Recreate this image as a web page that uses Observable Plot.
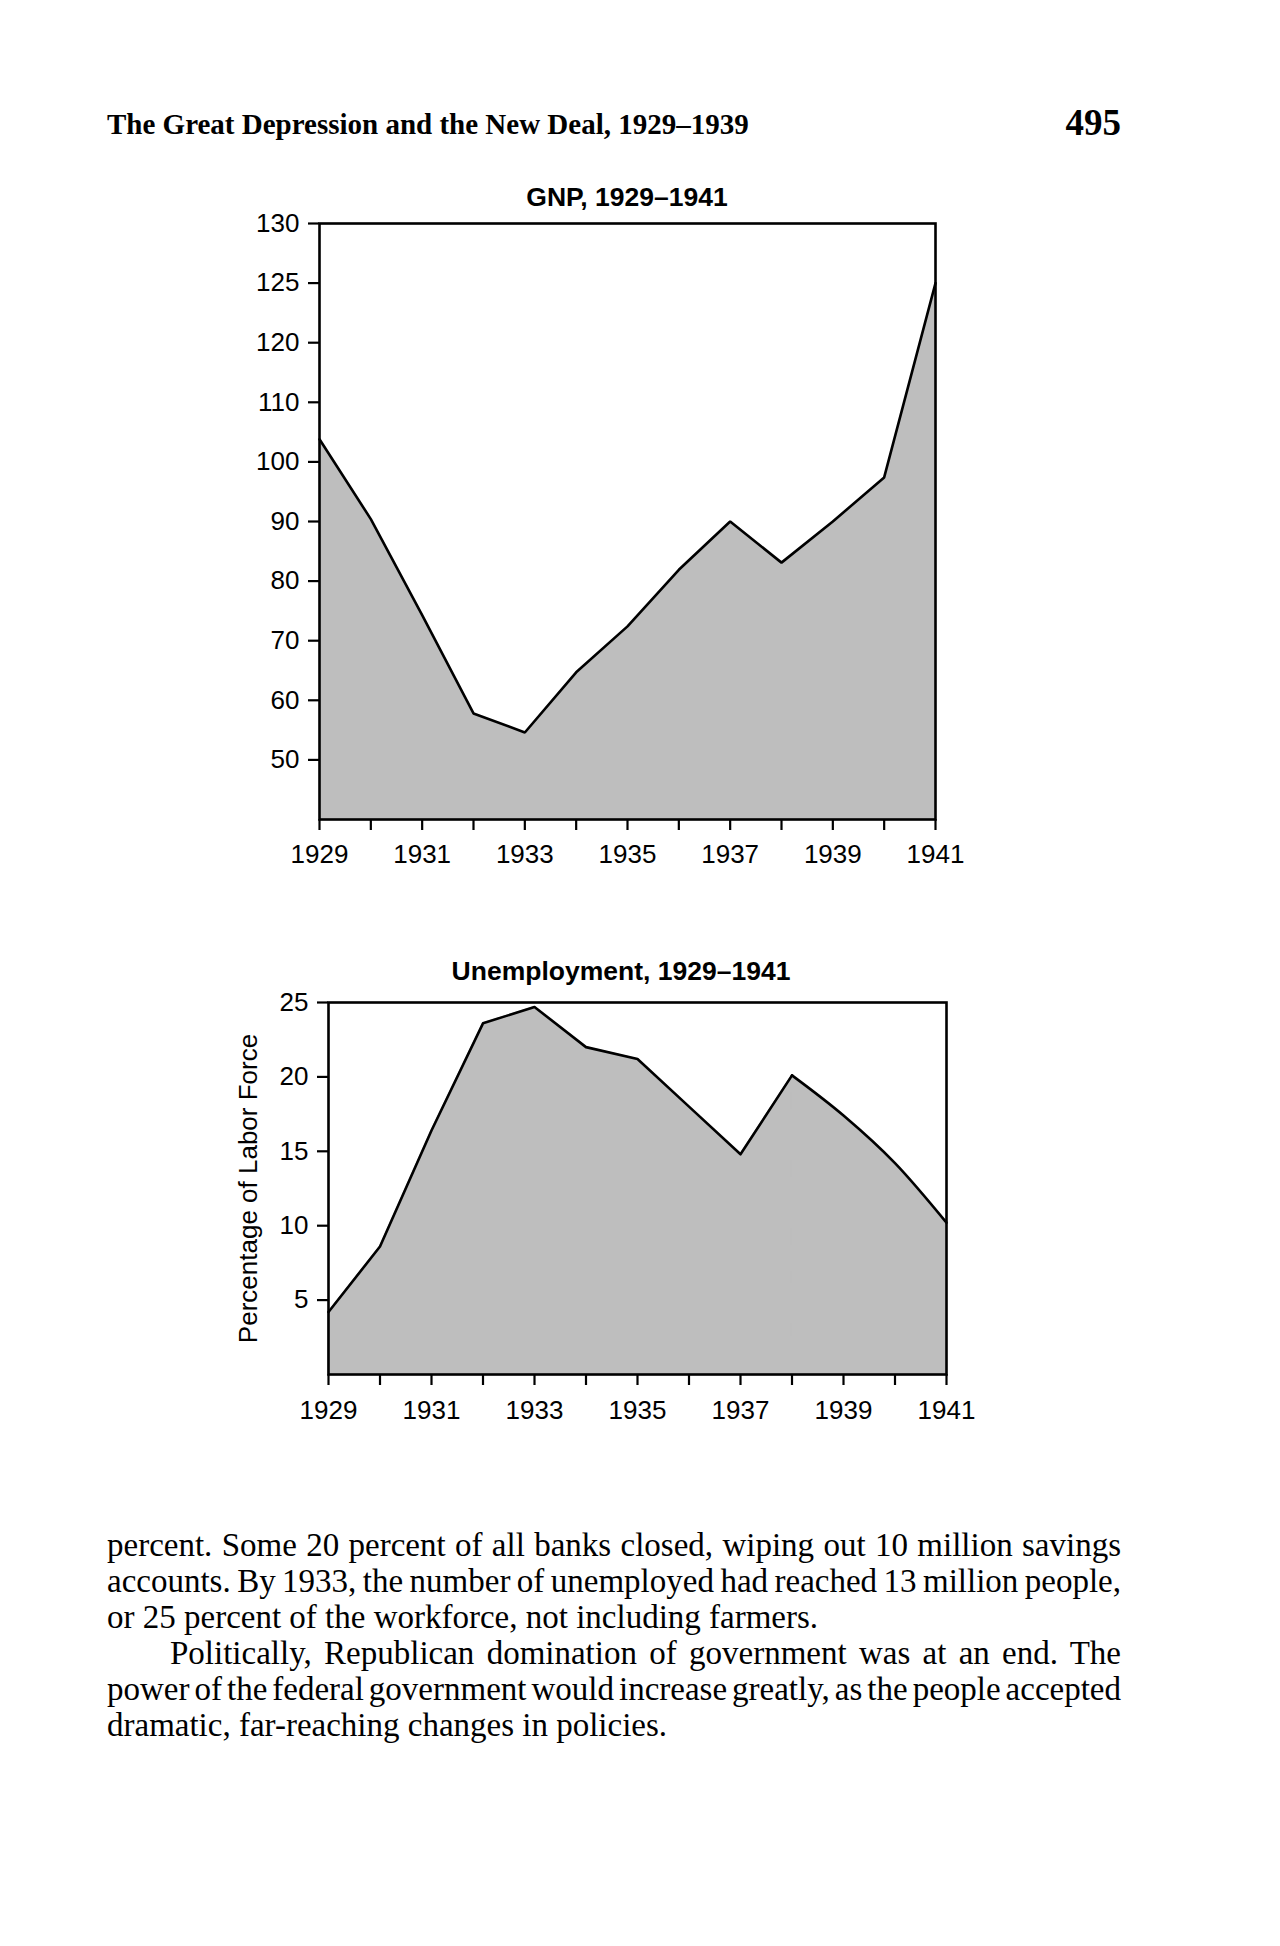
<!DOCTYPE html>
<html>
<head>
<meta charset="utf-8">
<script src="https://cdn.jsdelivr.net/npm/d3@7"></script>
<script src="https://cdn.jsdelivr.net/npm/@observablehq/plot@0.6"></script>
<style>
  html, body { margin: 0; padding: 0; background: #fff; }
  body { width: 1280px; height: 1946px; position: relative; overflow: hidden; color: #000;
         font-family: "Liberation Serif", "Times New Roman", serif; }
  .abs { position: absolute; }
  #header { left: 107px; top: 110px; font-size: 29px; line-height: 29px; font-weight: bold; white-space: nowrap; }
  #pagenum { right: 159px; top: 104px; font-size: 37px; line-height: 37px; font-weight: bold; }
  .ctitle { font-family: "Liberation Sans", Arial, sans-serif; font-weight: bold; font-size: 26.5px; line-height: 26.5px;
            white-space: nowrap; transform: translateX(-50%); }
  .bline { font-size: 33px; line-height: 36px; white-space: nowrap; }
  svg { overflow: visible; }
</style>
</head>
<body>
<div id="header" class="abs">The Great Depression and the New Deal, 1929–1939</div>
<div id="pagenum" class="abs">495</div>
<div id="t1" class="abs ctitle" style="left:627px; top:184px;">GNP, 1929–1941</div>
<div id="c1" class="abs" style="left:0; top:200px;"></div>
<div id="t2" class="abs ctitle" style="left:621px; top:958px;">Unemployment, 1929–1941</div>
<div id="c2" class="abs" style="left:0; top:980px;"></div>
<div id="body"></div>
<script>
// ---- data ----
const years = [1929, 1930, 1931, 1932, 1933, 1934, 1935, 1936, 1937, 1938, 1939, 1940, 1941];
const gnpValues = [103.8, 90.4, 74.3, 57.8, 54.6, 64.7, 72.4, 81.9, 90.0, 83.1, 90.0, 97.4, 125.0];
const unemploymentValues = [4.2, 8.6, 16.4, 23.6, 24.7, 22.0, 21.2, 18.0, 14.8, 20.1, 17.4, 14.2, 10.2];
const gnpTicks = [50, 60, 70, 80, 90, 100, 110, 120, 125, 130];
const gnpFloor = 40;
const gnpBreak = 120;     // above this value the axis steps by 5 instead of 10
const gnpTop = 130;
const unemploymentTicks = [5, 10, 15, 20, 25];
const unemploymentDomain = [0, 25];
const xTickLabels = ["1929", "1931", "1933", "1935", "1937", "1939", "1941"];
const yearDomain = [1929, 1941];
const curveFromYear = 1938;

const bodyLines = [
  "percent. Some 20 percent of all banks closed, wiping out 10 million savings",
  "accounts. By 1933, the number of unemployed had reached 13 million people,",
  "or 25 percent of the workforce, not including farmers.",
  "Politically, Republican domination of government was at an end. The",
  "power of the federal government would increase greatly, as the people accepted",
  "dramatic, far-reaching changes in policies."
];

// ---- charts ----
const gnpData = years.map((year, i) => ({year, value: gnpValues[i]}));
const unData = years.map((year, i) => ({year, value: unemploymentValues[i]}));
const unStraight = unData.filter(d => d.year <= curveFromYear);
const unCurved = unData.filter(d => d.year >= curveFromYear);

// piecewise axis: 10 units per step up to 120, then 5 units per step
const gnpAxisTransform = v => v <= gnpBreak ? v : gnpBreak + (v - gnpBreak) * 2;
const gnpAxisInverse = t => t <= gnpBreak ? t : gnpBreak + (t - gnpBreak) / 2;
const fmtYear = d => xTickLabels.includes(String(d)) ? String(d) : "";
const common = {
  width: 1280,
  style: {fontFamily: '"Liberation Sans", Arial, Helvetica, sans-serif', fontSize: "26px", color: "#000", background: "transparent", overflow: "visible"}
};

const gnpChart = Plot.plot({
  ...common,
  height: 690, marginTop: 23, marginBottom: 71, marginLeft: 319, marginRight: 345,
  x: {domain: yearDomain},
  y: {transform: gnpAxisTransform, domain: [gnpFloor, gnpAxisTransform(gnpTop)]},
  marks: [
    Plot.areaY(gnpData, {x: "year", y1: gnpFloor, y2: "value", fill: "#bebebe"}),
    Plot.line(gnpData, {x: "year", y: "value", stroke: "#000", strokeWidth: 2.6, strokeLinejoin: "miter"}),
    Plot.axisY({ticks: gnpTicks.map(gnpAxisTransform), tickSize: 11, tickPadding: 9, strokeWidth: 2.2,
                tickFormat: t => String(gnpAxisInverse(t)), label: null}),
    Plot.axisX({ticks: years, tickSize: 11, tickPadding: 14, strokeWidth: 2.2, tickFormat: fmtYear, label: null}),
    Plot.frame({stroke: "#000", strokeWidth: 2.6})
  ]
});
document.getElementById("c1").appendChild(gnpChart);

const unChart = Plot.plot({
  ...common,
  height: 464, marginTop: 22, marginBottom: 70, marginLeft: 328, marginRight: 334,
  x: {domain: yearDomain},
  y: {domain: unemploymentDomain},
  marks: [
    Plot.areaY(unStraight, {x: "year", y1: 0, y2: "value", fill: "#bebebe", stroke: "#bebebe", strokeWidth: 1}),
    Plot.areaY(unCurved, {x: "year", y1: 0, y2: "value", fill: "#bebebe", stroke: "#bebebe", strokeWidth: 1, curve: "monotone-x"}),
    Plot.line(unStraight, {x: "year", y: "value", stroke: "#000", strokeWidth: 2.6, strokeLinecap: "round"}),
    Plot.line(unCurved, {x: "year", y: "value", stroke: "#000", strokeWidth: 2.6, strokeLinecap: "round", curve: "monotone-x"}),
    Plot.axisY({ticks: unemploymentTicks, tickSize: 11, tickPadding: 9, strokeWidth: 2.2,
                label: "Percentage of Labor Force", labelAnchor: "center", labelOffset: 90, labelArrow: "none"}),
    Plot.axisX({ticks: years, tickSize: 11, tickPadding: 15, strokeWidth: 2.2, tickFormat: fmtYear, label: null}),
    Plot.frame({stroke: "#000", strokeWidth: 2.6})
  ]
});
document.getElementById("c2").appendChild(unChart);

// ---- body text (justified lines) ----
const justified = [true, true, false, true, true, false];
const indents = [0, 0, 0, 63, 0, 0];
const bodyLeft = 107, bodyRight = 1121, firstTop = 1527.3, lineStep = 36;
const bodyEl = document.getElementById("body");
bodyLines.forEach((txt, i) => {
  const div = document.createElement("div");
  div.className = "abs bline";
  div.style.left = (bodyLeft + indents[i]) + "px";
  div.style.top = (firstTop + i * lineStep) + "px";
  const span = document.createElement("span");
  span.textContent = txt;
  div.appendChild(span);
  bodyEl.appendChild(div);
  if (justified[i]) {
    const w = span.getBoundingClientRect().width;
    const spaces = (txt.match(/ /g) || []).length;
    const target = bodyRight - bodyLeft - indents[i];
    span.style.wordSpacing = ((target - w) / spaces) + "px";
  }
});
</script>
</body>
</html>
